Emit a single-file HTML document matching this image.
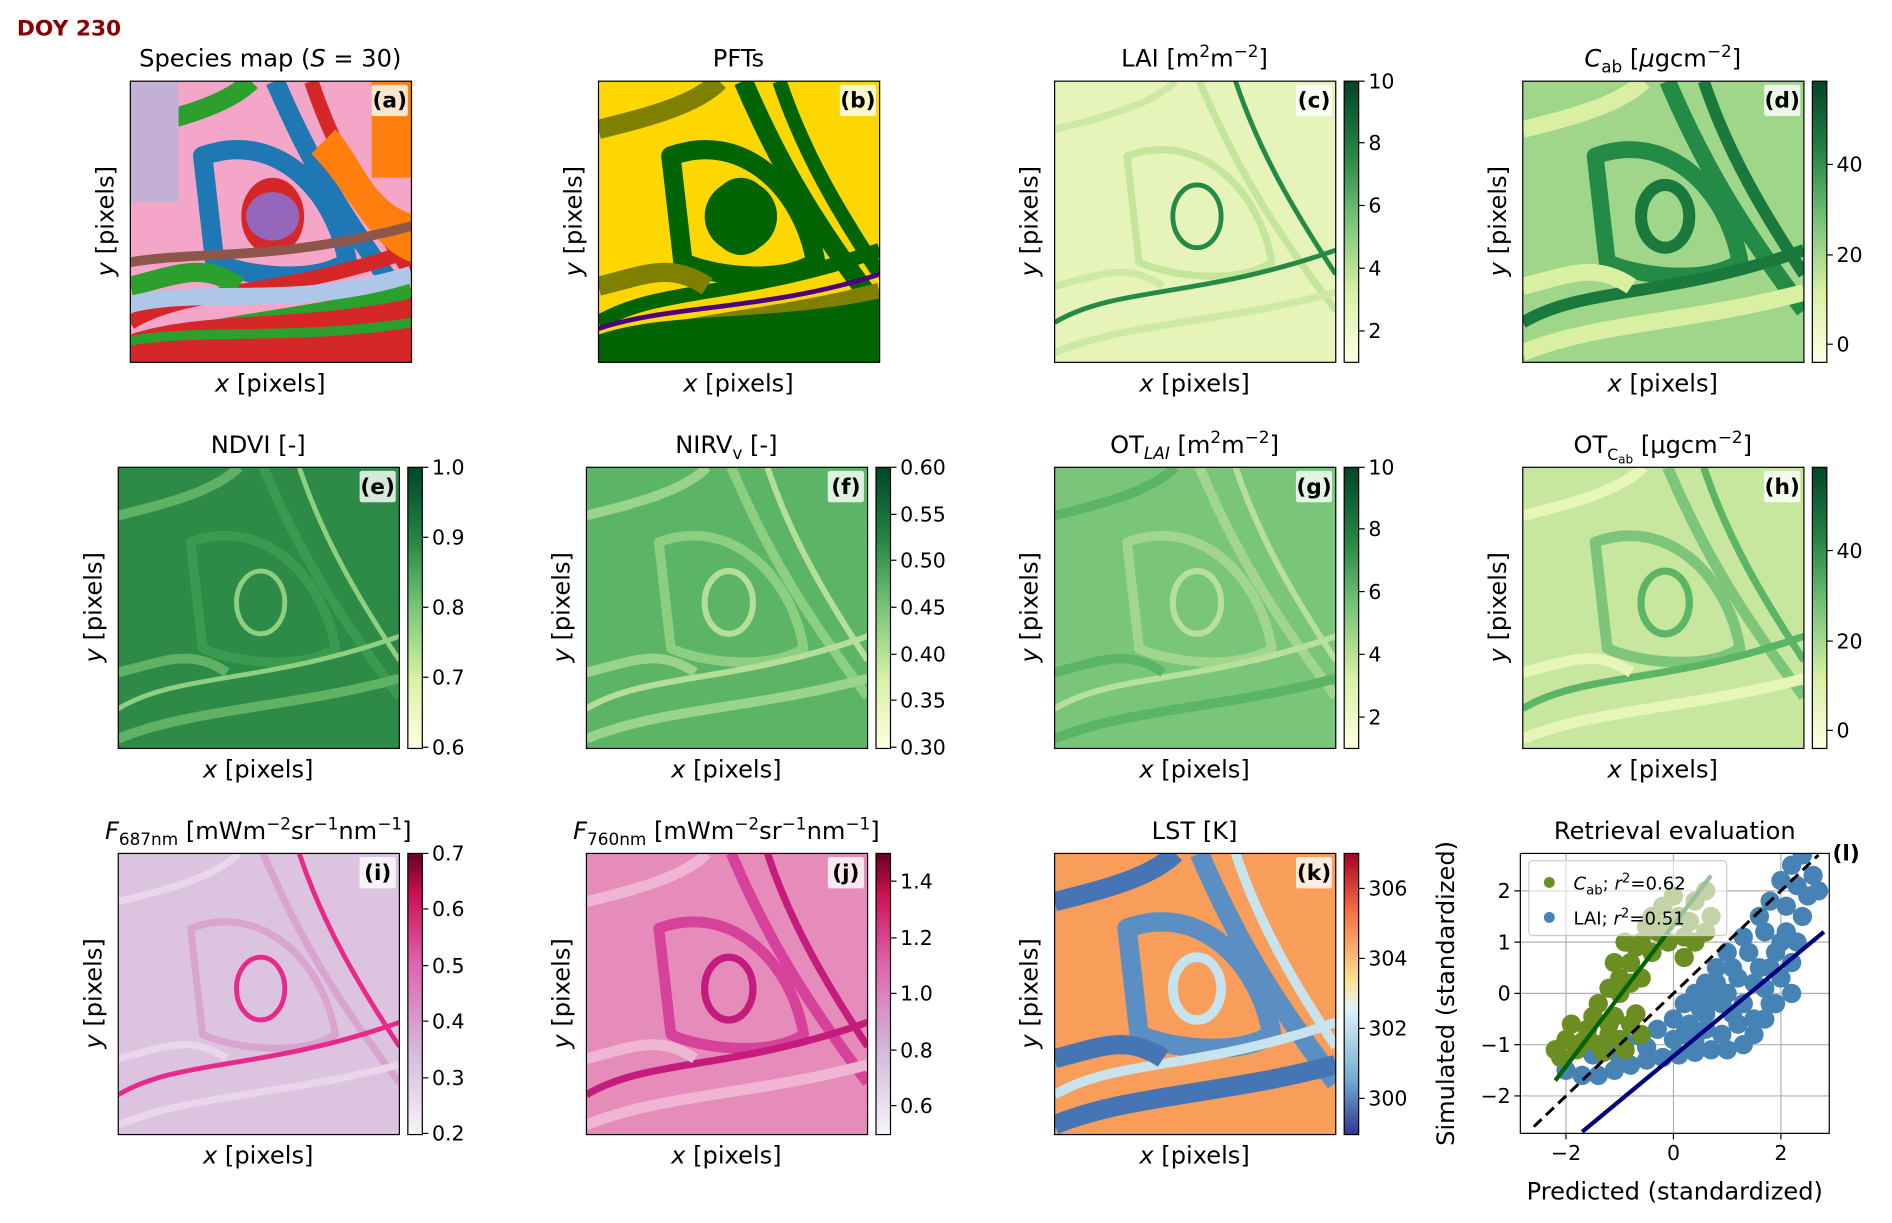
<!DOCTYPE html>
<html><head><meta charset="utf-8"><style>
html,body{margin:0;padding:0;background:#fff;}
svg{display:block;font-family:"DejaVu Sans","Liberation Sans",sans-serif;}
.t{font-size:20px;fill:#000;text-anchor:middle}
.tk{font-size:17px;fill:#000}
</style></head><body>
<svg id="fig" width="1892" height="1223" viewBox="0 0 1568 1013" xmlns="http://www.w3.org/2000/svg">
<defs>
<linearGradient id="gGreen" x1="0" y1="1" x2="0" y2="0"><stop offset="0" stop-color="#ffffe5"/><stop offset="0.25" stop-color="#d9f0a3"/><stop offset="0.5" stop-color="#78c679"/><stop offset="0.75" stop-color="#238443"/><stop offset="1" stop-color="#004529"/></linearGradient>
<linearGradient id="gPink" x1="0" y1="1" x2="0" y2="0"><stop offset="0" stop-color="#f7f4f9"/><stop offset="0.3" stop-color="#d4b9da"/><stop offset="0.6" stop-color="#df65b0"/><stop offset="0.85" stop-color="#ce1256"/><stop offset="1" stop-color="#67001f"/></linearGradient>
<linearGradient id="gLst" x1="0" y1="1" x2="0" y2="0"><stop offset="0" stop-color="#313695"/><stop offset="0.2" stop-color="#74add1"/><stop offset="0.45" stop-color="#e0f3f8"/><stop offset="0.55" stop-color="#fee090"/><stop offset="0.8" stop-color="#f46d43"/><stop offset="1" stop-color="#a50026"/></linearGradient>
<g id="bands" fill="none" stroke-linejoin="round">
<path d="M0,40 C40,30 80,20 100,0" style="stroke:var(--c3);stroke-width:var(--w2)"/>
<path d="M120,0 C150,70 180,120 233,190" style="stroke:var(--c2);stroke-width:var(--w2)"/>
<path d="M150,0 C170,60 200,110 233,160" style="stroke:var(--c1);stroke-width:var(--w1)"/>
<path d="M60,62 C120,40 170,90 180,150 C150,170 90,160 70,150 Z" style="stroke:var(--c2);stroke-width:var(--w2)"/>
<ellipse cx="118" cy="112" rx="20" ry="26" style="stroke:var(--c1);stroke-width:var(--w1)"/>
<path d="M0,200 C50,170 120,180 233,140" style="stroke:var(--c1);stroke-width:var(--w1)"/>
<path d="M0,225 C60,200 140,200 233,175" style="stroke:var(--c3);stroke-width:var(--w2)"/>
<path d="M0,170 C40,160 60,150 90,170" style="stroke:var(--c3);stroke-width:var(--w2)"/>
</g>
</defs>
<text x="14" y="29" font-size="18" font-weight="bold" fill="#8b0000">DOY 230</text>
<g id="panels"></g>
<g id="scatter"></g>
</svg>
<script>
const NS="http://www.w3.org/2000/svg";
function el(tag,attrs,parent,txt){const e=document.createElementNS(NS,tag);for(const k in attrs)e.setAttribute(k,attrs[k]);if(txt!==undefined)e.innerHTML=txt;parent.appendChild(e);return e;}
const P=document.getElementById('panels');
const panels=[
 {id:'a',x:108,y:67,title:'Species map (<tspan font-style="italic">S</tspan> = 30)',base:'#f4a6c8',c1:'#d62728',c2:'#1f77b4',c3:'#2ca02c',w1:12,w2:16,cb:null},
 {id:'b',x:496,y:67,title:'PFTs',base:'#ffd700',c1:'#006400',c2:'#006400',c3:'#808000',w1:12,w2:16,cb:null},
 {id:'c',x:874,y:67,title:'LAI [m<tspan dy="-8" font-size="14">2</tspan><tspan dy="8">m</tspan><tspan dy="-8" font-size="14">−2</tspan><tspan dy="8">]</tspan>',base:'#e6f4b9',c1:'#238b45',c2:'#c4e59c',c3:'#cde9a3',w1:4,w2:6,cb:{g:'gGreen',ticks:[[10,67],[8,118],[6,170],[4,222],[2,274]]}},
 {id:'d',x:1262,y:67,title:'<tspan font-style="italic">C</tspan><tspan dy="5" font-size="14">ab</tspan><tspan dy="-5"> [</tspan><tspan font-style="italic">μ</tspan>gcm<tspan dy="-8" font-size="14">−2</tspan><tspan dy="8">]</tspan>',base:'#9fd68a',c1:'#1a7a3e',c2:'#238b45',c3:'#d9f0a3',w1:10,w2:14,cb:{g:'gGreen',ticks:[[40,136],[20,211],[0,285]]}},
 {id:'e',x:98,y:387,title:'NDVI [-]',base:'#2e8b47',c1:'#8fcf80',c2:'#3a9a50',c3:'#5fb264',w1:4,w2:8,cb:{g:'gGreen',ticks:[['1.0',387],['0.9',445],['0.8',503],['0.7',561],['0.6',619]]}},
 {id:'f',x:486,y:387,title:'NIRV<tspan dy="5" font-size="14">v</tspan><tspan dy="-5"> [-]</tspan>',base:'#5cb567',c1:'#b5df98',c2:'#8ccf80',c3:'#99d48a',w1:5,w2:8,cb:{g:'gGreen',ticks:[['0.60',387],['0.55',426],['0.50',464],['0.45',503],['0.40',542],['0.35',580],['0.30',619]]}},
 {id:'g',x:874,y:387,title:'OT<tspan dy="5" font-size="14" font-style="italic">LAI</tspan><tspan dy="-5"> [m</tspan><tspan dy="-8" font-size="14">2</tspan><tspan dy="8">m</tspan><tspan dy="-8" font-size="14">−2</tspan><tspan dy="8">]</tspan>',base:'#79c67a',c1:'#b7e09a',c2:'#a2d68d',c3:'#5cb567',w1:5,w2:8,cb:{g:'gGreen',ticks:[[10,387],[8,438],[6,490],[4,542],[2,594]]}},
 {id:'h',x:1262,y:387,title:'OT<tspan dy="6" font-size="13">C</tspan><tspan dy="3" font-size="10">ab</tspan><tspan dy="-9"> [μgcm</tspan><tspan dy="-8" font-size="14">−2</tspan><tspan dy="8">]</tspan>',base:'#c7e69e',c1:'#5cb567',c2:'#7cc57a',c3:'#e8f5b8',w1:6,w2:9,cb:{g:'gGreen',ticks:[[40,456],[20,531],[0,605]]}},
 {id:'i',x:98,y:707,title:'<tspan font-style="italic">F</tspan><tspan dy="5" font-size="14">687nm</tspan><tspan dy="-5"> [mWm</tspan><tspan dy="-8" font-size="14">−2</tspan><tspan dy="8">sr</tspan><tspan dy="-8" font-size="14">−1</tspan><tspan dy="8">nm</tspan><tspan dy="-8" font-size="14">−1</tspan><tspan dy="8">]</tspan>',base:'#dcc3e0',c1:'#e7298a',c2:'#d9a4cf',c3:'#e9d6ea',w1:4,w2:6,cb:{g:'gPink',ticks:[['0.7',707],['0.6',753],['0.5',800],['0.4',846],['0.3',893],['0.2',939]]}},
 {id:'j',x:486,y:707,title:'<tspan font-style="italic">F</tspan><tspan dy="5" font-size="14">760nm</tspan><tspan dy="-5"> [mWm</tspan><tspan dy="-8" font-size="14">−2</tspan><tspan dy="8">sr</tspan><tspan dy="-8" font-size="14">−1</tspan><tspan dy="8">nm</tspan><tspan dy="-8" font-size="14">−1</tspan><tspan dy="8">]</tspan>',base:'#e68cbb',c1:'#c51b7d',c2:'#d6419a',c3:'#efb6d4',w1:6,w2:9,cb:{g:'gPink',ticks:[['1.4',730],['1.2',777],['1.0',823],['0.8',870],['0.6',916]]}},
 {id:'k',x:874,y:707,title:'LST [K]',base:'#f99d5a',c1:'#c6e3ee',c2:'#5b8fc4',c3:'#4575b4',w1:8,w2:16,cb:{g:'gLst',ticks:[[306,736],[304,794],[302,852],[300,910]]}}
];
panels.forEach(p=>{
 const g=el('g',{},P);
 
 
 const t=el('text',{class:'t',x:p.x+116,y:p.y-12},g,p.title);
 
 
 const inner=el('svg',{x:p.x,y:p.y,width:233,height:233,viewBox:'0 0 233 233'},g);
 el('rect',{x:0,y:0,width:233,height:233,fill:p.base},inner);
 el('use',{href:'#bands',style:`--c1:${p.c1};--c2:${p.c2};--c3:${p.c3};--w1:${p.w1}px;--w2:${p.w2}px`},inner);
 if(p.id==='a'){
  el('rect',{x:0,y:0,width:40,height:100,fill:'#c5b0d5'},inner);
  el('rect',{x:200,y:0,width:33,height:80,fill:'#ff7f0e'},inner);
  el('path',{d:'M150,60 C180,90 200,140 233,150 L233,110 C200,100 190,60 170,40Z',fill:'#ff7f0e'},inner);
  el('ellipse',{cx:118,cy:112,rx:22,ry:20,fill:'#9467bd'},inner);
  el('path',{d:'M0,210 C60,190 140,200 233,180 L233,233 L0,233Z',fill:'#d62728'},inner);
  el('path',{d:'M0,150 C60,140 120,150 233,120',fill:'none',stroke:'#8c564b','stroke-width':8},inner);
  el('path',{d:'M0,185 C60,170 140,190 233,160',fill:'none',stroke:'#aec7e8','stroke-width':14},inner);
  el('path',{d:'M0,215 C60,205 140,215 233,200',fill:'none',stroke:'#2ca02c','stroke-width':8},inner);
 }
 if(p.id==='b'){
  el('path',{d:'M0,210 C60,190 140,200 233,180 L233,233 L0,233Z',fill:'#006400'},inner);
  el('path',{d:'M0,205 C60,185 140,190 233,160',fill:'none',stroke:'#4b0082','stroke-width':4},inner);
  el('ellipse',{cx:118,cy:112,rx:30,ry:30,fill:'#006400'},inner);
 }
 el('rect',{x:p.x,y:p.y,width:233,height:233,fill:'none',stroke:'#000','stroke-width':1},g);
 el('rect',{x:p.x+200,y:p.y+3,width:30,height:26,fill:'#fff','fill-opacity':0.8,rx:2},g);
 el('text',{x:p.x+215,y:p.y+22,'text-anchor':'middle','font-size':18,'font-weight':'bold'},g,'('+p.id+')');
 const xl=el('text',{class:'t',x:p.x+116,y:p.y+257},g,'<tspan font-style="italic">x</tspan> [pixels]');
 
 
 const yl=el('text',{class:'t',transform:`translate(${p.x-14},${p.y+116}) rotate(-90)`},g,'<tspan font-style="italic">y</tspan> [pixels]');
 
 
 if(p.cb){
  const cx=p.x+240;
  const cb=el('rect',{x:cx,y:p.y,width:12,height:233,fill:`url(#${p.cb.g})`,stroke:'#000','stroke-width':1},g);
  
  
  p.cb.ticks.forEach(([v,y])=>{
   el('line',{x1:cx+12,x2:cx+17,y1:y,y2:y,stroke:'#000'},g);
   el('text',{class:'tk',x:cx+20,y:y+6},g,String(v));
  });
 }
});

// ---- scatter panel (l) data ----
const cabX=[-2.2,-2.0,-1.8,-1.6,-1.4,-1.2,-1.0,-0.8,-0.6,-1.9,-1.5,-1.1,-0.7,-1.3,-2.1,-1.7,-0.9,-1.4,-1.2,-1.0,-0.8,-1.1,-0.9,-0.6,-0.4,-0.3,-0.6,-0.1,0.2,0.4,0.6,0.1,-0.4,0.4,0.7,0.0,0.6,-0.2,-0.8,0.2,-1.6,-1.2,-0.5,-0.2,0.3,-0.7,-1.0];
const cabY=[-1.1,-0.9,-1.1,-0.7,-1.0,-0.6,-0.9,-0.6,-0.8,-0.6,-0.45,-0.45,-0.4,-1.15,-1.25,-0.95,-1.1,-0.2,0.1,0.3,0.6,0.6,1.0,1.0,0.8,1.2,0.3,1.0,1.1,1.0,1.2,1.5,1.5,1.8,1.5,1.9,2.0,1.7,0.2,0.7,-0.85,-0.8,1.3,1.3,1.4,0.9,0.0];
const laiX=[-2.0,-1.7,-1.4,-1.1,-0.8,-0.5,-0.2,0.1,0.4,0.7,1.0,1.3,1.5,1.7,1.8,-1.5,-1.2,-0.9,-0.6,-0.3,0,0.2,0.4,0.6,0.8,1.0,1.3,1.6,1.8,2.0,2.2,2.4,2.6,2.7,-1.0,-0.5,0,0.3,0.6,0.9,1.2,0.5,0.9,1.3,1.7,0.8,1.2,1.6,2.0,1.4,1.9,2.2,1.7,2.1,2.4,2.1,2.5,2.3,1.0,0.4,1.9,2.2,2.3,0.2,0.6,1.1,1.5,1.5,1.1,0.7,1.8,2.0];
const laiY=[-1.5,-1.6,-1.6,-1.5,-1.4,-1.3,-1.25,-1.2,-1.15,-1.1,-1.1,-1.0,-0.8,-0.5,-0.2,-1.2,-1.05,-0.95,-0.85,-0.7,-0.5,-0.2,0.0,0.2,0.5,0.8,1.1,1.5,1.8,2.2,2.5,2.7,2.3,2.0,-1.25,-1.05,-0.9,-0.6,-0.7,-0.8,-0.6,-0.3,-0.2,-0.2,0.1,0.2,0.3,0.5,0.3,0.8,0.8,0.6,1.2,1.2,1.5,1.7,1.9,2.1,0.0,-0.9,-0.2,0.0,1.0,-0.8,-0.4,-0.4,-0.5,0.2,0.5,-0.1,0.5,1.0];
const fitCab=[[-2.2,-1.7],[0.7,2.3]];
const fitLai=[[-1.7,-2.7],[2.8,1.2]];
const oneToOne=[[-2.6,-2.6],[2.7,2.7]];
const xTicks=[-2,0,2];
const yTicks=[-2,-1,0,1,2];

const L={x0:1260,x1:1516,y0:707,y1:939,xmin:-2.85,xmax:2.9,ymin:-2.73,ymax:2.73};
const sx=v=>L.x0+(v-L.xmin)/(L.xmax-L.xmin)*(L.x1-L.x0);
const sy=v=>L.y1-(v-L.ymin)/(L.ymax-L.ymin)*(L.y1-L.y0);
const S=document.getElementById('scatter');
const clip=el('clipPath',{id:'lclip'},S);
el('rect',{x:L.x0,y:L.y0,width:L.x1-L.x0,height:L.y1-L.y0},clip);
const t=el('text',{class:'t',x:1388,y:695},S,'Retrieval evaluation');


el('text',{x:1530,y:713,'font-size':18,'font-weight':'bold','text-anchor':'middle'},S,'(l)');
const gg=el('g',{},S);


xTicks.forEach(v=>{el('line',{x1:sx(v),x2:sx(v),y1:L.y0,y2:L.y1,stroke:'#b0b0b0'},gg);
 el('line',{x1:sx(v),x2:sx(v),y1:L.y1,y2:L.y1+5,stroke:'#000'},S);
 el('text',{class:'tk','text-anchor':'middle',x:sx(v),y:L.y1+22},S,v<0?'−'+(-v):String(v));});
yTicks.forEach(v=>{el('line',{x1:L.x0,x2:L.x1,y1:sy(v),y2:sy(v),stroke:'#b0b0b0'},gg);
 el('line',{x1:L.x0-5,x2:L.x0,y1:sy(v),y2:sy(v),stroke:'#000'},S);
 el('text',{class:'tk','text-anchor':'end',x:L.x0-8,y:sy(v)+6},S,v<0?'−'+(-v):String(v));});
const pts=el('g',{'clip-path':'url(#lclip)'},S);
laiX.forEach((x,i)=>{const c=el('circle',{cx:sx(x),cy:sy(laiY[i]),r:8,fill:'#4682b4'},pts);
 
 });
cabX.forEach((x,i)=>{const c=el('circle',{cx:sx(x),cy:sy(cabY[i]),r:8,fill:'#6b8e23'},pts);
 
 });
const d1=el('line',{x1:sx(oneToOne[0][0]),y1:sy(oneToOne[0][1]),x2:sx(oneToOne[1][0]),y2:sy(oneToOne[1][1]),stroke:'#000','stroke-width':2.5,'stroke-dasharray':'9,5'},pts);


const f1=el('line',{x1:sx(fitCab[0][0]),y1:sy(fitCab[0][1]),x2:sx(fitCab[1][0]),y2:sy(fitCab[1][1]),stroke:'#006400','stroke-width':3.5},pts);


const f2=el('line',{x1:sx(fitLai[0][0]),y1:sy(fitLai[0][1]),x2:sx(fitLai[1][0]),y2:sy(fitLai[1][1]),stroke:'#000080','stroke-width':3.5},pts);


el('rect',{x:L.x0,y:L.y0,width:L.x1-L.x0,height:L.y1-L.y0,fill:'none',stroke:'#000'},S);
const lg=el('g',{},S);


el('rect',{x:1267,y:713,width:164,height:62,rx:3,fill:'#fff','fill-opacity':0.6,stroke:'#ccc'},lg);
el('circle',{cx:1284,cy:731,r:4.5,fill:'#6b8e23'},lg);
el('text',{x:1304,y:737,'font-size':15},lg,'<tspan font-style="italic">C</tspan><tspan dy="4" font-size="11">ab</tspan><tspan dy="-4">; </tspan><tspan font-style="italic">r</tspan><tspan dy="-6" font-size="11">2</tspan><tspan dy="6">=0.62</tspan>');
el('circle',{cx:1284,cy:760,r:4.5,fill:'#4682b4'},lg);
el('text',{x:1304,y:766,'font-size':15},lg,'LAI; <tspan font-style="italic">r</tspan><tspan dy="-6" font-size="11">2</tspan><tspan dy="6">=0.51</tspan>');
const xt=el('text',{class:'t',x:1388,y:994},S,'Predicted (standardized)');


const yt=el('text',{class:'t',transform:'translate(1205,823) rotate(-90)'},S,'Simulated (standardized)');


</script>
</body></html>
